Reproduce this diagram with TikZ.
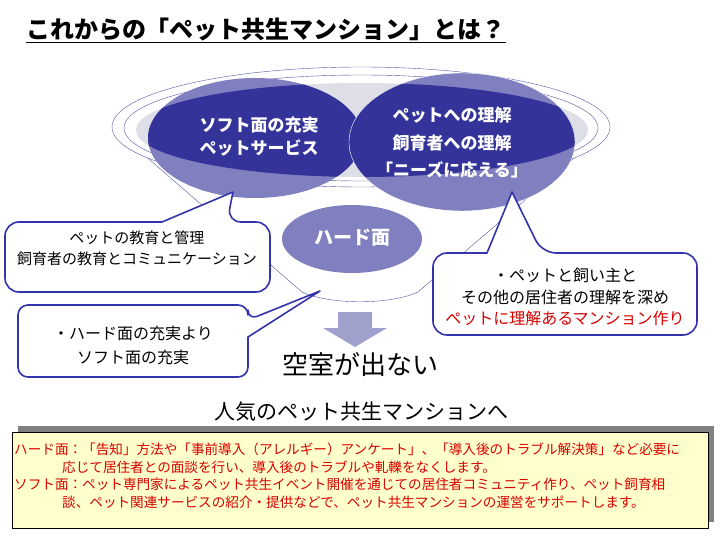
\documentclass[tikz,border=0pt]{standalone}
\usepackage{fontspec}
\setmainfont{Noto Sans CJK JP}
\usetikzlibrary{positioning}

\definecolor{navy}{RGB}{51,51,153}
\definecolor{lav}{RGB}{128,128,192}
\definecolor{ringgray}{RGB}{222,222,230}
\definecolor{linenavy}{RGB}{85,85,165}
\definecolor{arrowlav}{RGB}{160,160,204}
\definecolor{callnavy}{RGB}{51,51,170}
\definecolor{memo}{RGB}{255,255,204}
\definecolor{memored}{RGB}{215,0,0}

\begin{document}
\begin{tikzpicture}[x=1pt, y=-1pt,
    callout/.style={draw=callnavy, line width=1.6pt, fill=white, line join=round},
    circtext/.style={text=white, align=center, inner sep=0pt,
        font=\bfseries\fontsize{17}{26}\selectfont},
    calltext/.style={align=center, inner sep=0pt},
    memotext/.style={anchor=west, inner sep=0pt, text=memored,
        font=\fontsize{13.6}{17}\selectfont}]

    \useasboundingbox (0,0) rectangle (720,540);

    % 座標の定義
    \coordinate (L) at (112,127);
    \coordinate (R) at (610,127);
    \coordinate (BL) at (302,292);
    \coordinate (BR) at (418,292);
    \coordinate (T1) at (233,192);
    \coordinate (T2) at (320,291);
    \coordinate (T3) at (512,192);

    % 漏斗の描画
    \draw [linenavy] (L) -- (BL) .. controls (330,305) and (390,305) .. (BR) -- (R);
    \draw [linenavy, fill=white] (361,127) ellipse [x radius=249pt, y radius=60pt];
    \draw [linenavy] (361,128) ellipse [x radius=237pt, y radius=53pt];
    \fill [ringgray] (362,130) ellipse [x radius=226pt, y radius=47pt];

    % 円の描画
    \fill [lav] (255,138) ellipse [x radius=107pt, y radius=60pt];
    \begin{scope}
        \clip (362,130) ellipse [x radius=226pt, y radius=47pt];
        \fill [navy] (255,138) ellipse [x radius=107pt, y radius=60pt];
    \end{scope}
    \fill [lav] (462,142) ellipse [x radius=113pt, y radius=69pt];
    \begin{scope}
        \clip (362,130) ellipse [x radius=226pt, y radius=47pt];
        \fill [navy] (462,142) ellipse [x radius=113pt, y radius=69pt];
    \end{scope}
    \draw [white, thin] (462,142) ellipse [x radius=113pt, y radius=69pt];

    \fill [lav] (352,239) ellipse [x radius=70pt, y radius=34pt];

    % 矢印
    \fill [arrowlav] (338,312) -- (372,312) -- (372,328) -- (387,328)
        -- (355,347) -- (323,328) -- (338,328) -- cycle;

    % 吹き出し
    \draw [callout] (162,222) [rounded corners=14pt] -- (5,222) -- (5,292)
        -- (270,292) -- (270,222) -- (227,222) [sharp corners] -- (T1) -- cycle;
    \draw [callout] (248,337) [rounded corners=10pt] -- (248,377) -- (18,377)
        -- (18,305) -- (248,305) -- (248,320) [sharp corners] -- (T2) -- cycle;
    \draw [callout] (487,253) [rounded corners=14pt] -- (433,253) -- (433,335)
        -- (697,335) -- (697,253) -- (542,253) [sharp corners] -- (T3) -- cycle;

    % 文字
    \node [inner sep=0pt, font=\bfseries\fontsize{24}{24}\selectfont] (title) at (266,29)
        {これからの「ペット共生マンション」とは？};
    \draw [thin] ([yshift=-4pt]title.base west) -- ([yshift=-4pt]title.base east);

    \node [circtext, font=\bfseries\fontsize{17}{23}\selectfont] (soft) at (259,137)
        {ソフト面の充実\\ペットサービス};
    \node [circtext, font=\bfseries\fontsize{17}{27.5}\selectfont] (rikai) at (452,143)
        {ペットへの理解\\飼育者への理解\\「ニーズに応える」};
    \node [circtext, font=\bfseries\fontsize{19}{19}\selectfont] (hard) at (352,238) {ハード面};

    \node [calltext, font=\fontsize{15}{21}\selectfont] (kyoiku) at (137,248)
        {ペットの教育と管理\\飼育者の教育とコミュニケーション};
    \node [calltext, font=\fontsize{16}{24}\selectfont] (juujitsu) at (133,345)
        {・ハード面の充実より\\ソフト面の充実};
    \node [calltext, font=\fontsize{16}{21.5}\selectfont] (fukame) at (565,297)
        {・ペットと飼い主と\\その他の居住者の理解を深め\\
         \textcolor{memored}{ペットに理解あるマンション作り}};

    \node [inner sep=0pt, font=\fontsize{26}{26}\selectfont] (akinai) at (360,365) {空室が出ない};
    \node [inner sep=0pt, font=\fontsize{21}{21}\selectfont] (ninki) at (361,412)
        {人気のペット共生マンションへ};

    % メモ欄
    \fill [black!50] (18,426) rectangle (714,522);
    \filldraw [fill=memo, draw=black, thin] (12,432) rectangle (708,528);
    \node [memotext] (m1) at (14,449)
        {ハード面：「告知」方法や「事前導入（アレルギー）アンケート」、「導入後のトラブル解決策」など必要に};
    \node [memotext] (m2) at (62,467)
        {応じて居住者との面談を行い、導入後のトラブルや軋轢をなくします。};
    \node [memotext] (m3) at (14,484)
        {ソフト面：ペット専門家によるペット共生イベント開催を通じての居住者コミュニティ作り、ペット飼育相};
    \node [memotext] (m4) at (62,502)
        {談、ペット関連サービスの紹介・提供などで、ペット共生マンションの運営をサポートします。};

\end{tikzpicture}
\end{document}
